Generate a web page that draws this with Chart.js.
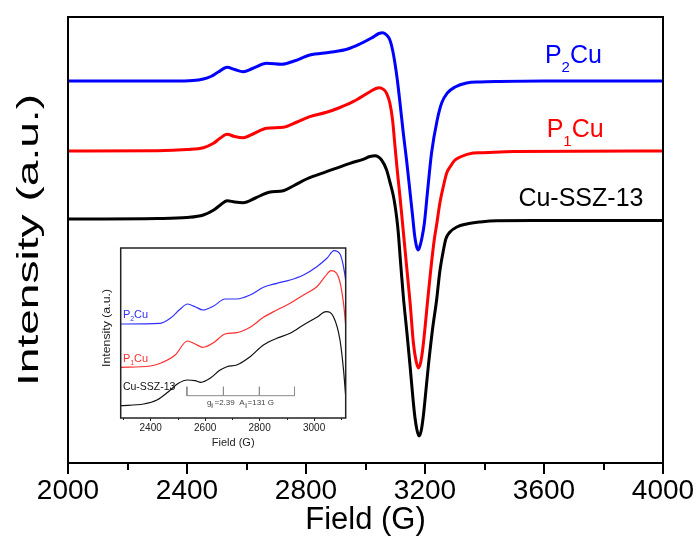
<!DOCTYPE html>
<html><head><meta charset="utf-8">
<script src="https://cdn.jsdelivr.net/npm/chart.js@4.4.0/dist/chart.umd.min.js"></script>
<style>
html,body{margin:0;padding:0;background:#fff;}
#wrap{position:relative;width:698px;height:537px;overflow:hidden;}
#main{position:absolute;left:0;top:0;width:698px;height:537px;}
#inset{position:absolute;left:95px;top:240px;width:260px;height:210px;}
</style></head><body>
<div id="wrap">
<canvas id="main" width="698" height="537"></canvas>
<canvas id="inset" width="260" height="210"></canvas>
</div>
<script>
// ---------- main chart data (field in G, intensity in arbitrary units incl. offset) ----------
const mainTickValues = [2000, 2400, 2800, 3200, 3600, 4000];
const mainMinorTickValues = [2200, 2600, 3000, 3400, 3800];

const p2Field = [2000,2200,2350,2420,2455,2480,2505,2535,2560,2589,2620,2668,2718,2760,2813,2881,2940,2981,3020,3045,3058,3071,3082,3091,3099,3107,3116,3127,3138,3150,3158,3165,3172,3177,3182,3189,3198,3208,3222,3241,3256,3275,3301,3340,3385,3450,3600,3800,4000];
const p2Val   = [382,382,382,382.5,384,386.5,391,395.7,393.5,391.3,394.5,399.7,398.7,402,408,410.7,414,419,425,429.5,430.3,428,423,413,399.7,383,360,330,303,270,248,228,216,213,216,224,240,270,310,343,360,370,376,380,381,381.5,382,382,382];

const p1Field = [2000,2300,2400,2455,2489,2510,2535,2560,2589,2625,2668,2724,2770,2813,2869,2910,2958,3015,3035,3046,3060,3071,3082,3091,3099,3107,3116,3125,3133,3141,3150,3161,3170,3178,3185,3192,3200,3209,3220,3231,3239,3250,3262,3273,3284,3301,3318,3362,3385,3500,4000];
const p1Val   = [312,312.3,313.5,315.3,319.7,324.5,328.7,326.5,325.3,329.5,334.7,335.7,341,346.3,350.7,355,361.3,371.3,374.5,375.3,373.7,369.7,359.7,343,317,292,266,238,213,188,160,120,102,95,100,113,135,163,195,223,238,260,277,290,296,303,306,310,310.3,311.5,312];

const cuField = [2000,2300,2400,2455,2490,2510,2535,2560,2589,2630,2676,2724,2760,2802,2869,2948,2992,3015,3032,3054,3071,3082,3093,3099,3105,3110,3118,3127,3140,3150,3160,3166,3173,3180,3187,3194,3200,3211,3225,3239,3250,3262,3270,3284,3307,3340,3385,3441,3600,4000];
const cuVal   = [244,244.5,245.5,248,253,257.5,262.3,261,260.3,265,270.7,272.3,277.5,284,291.3,299.7,303.7,306.5,307.3,303,293,281,268,258,245,231,200,167,128,96.3,63,46,33,27,32,46,63,96.3,133,163,192,213,224,231,236,239,241,242.3,242.5,242.5];

// ---------- inset data ----------
const insetTickValues = [2400, 2600, 2800, 3000];
const insetMinorTickValues = [2300, 2500, 2700, 2900, 3100];

const inP2Field = [2288,2435,2472,2508,2535,2563,2592,2631,2673,2716,2765,2814,2863,2912,2961,3010,3047,3073,3095,3108,3117,3125];
const inP2Val   = [94,94.7,99.7,108.7,114,111.3,108,112,119,119,123,130.7,134.7,138,143,151.3,159.7,167.3,164,151.3,134.7,105];

const inP1Field = [2288,2398,2435,2490,2535,2563,2592,2631,2673,2716,2765,2814,2863,2912,2961,3010,3040,3062,3089,3108,3117,3125];
const inP1Val   = [50.7,52,54.7,63,77,74,70.7,75.3,84,85.3,90.7,100.7,108,114.7,123,131.3,141.3,147.3,141.3,114.7,88,55];

const inCuField = [2288,2374,2423,2465,2502,2535,2563,2585,2618,2655,2680,2716,2765,2814,2863,2912,2961,3010,3044,3071,3095,3108,3117,3125];
const inCuVal   = [12.3,14,18,26.3,34.7,38,37.3,35.7,39.7,48,51.3,53,61.3,73,79.7,84.7,93,100.7,106.3,101.3,78,48,18,-10];

// hyperfine marker (g|| / A||) line positions
const hyperfineFields = [2533, 2667, 2799, 2928];

const seriesNames = ['P₂Cu', 'P₁Cu', 'Cu-SSZ-13'];

function pts(xs, ys){ return xs.map((x,i)=>({x:x, y:ys[i]})); }

const SANS = '"Liberation Sans", Arial, Helvetica, sans-serif';
Chart.defaults.font.family = SANS;
Chart.defaults.color = '#000';

function drawParts(ctx, parts, x, y, size, subSize, subOff, color){
  ctx.fillStyle = color;
  ctx.textBaseline = 'alphabetic';
  ctx.textAlign = 'left';
  let cx = x;
  for (const [t, sub] of parts){
    ctx.font = (sub ? subSize : size) + 'px ' + SANS;
    ctx.fillText(t, cx, sub ? y + subOff : y);
    cx += ctx.measureText(t).width;
  }
}
function drawStretchedVertical(ctx, text, font, color, baseX, centerY, length){
  ctx.save();
  ctx.font = font;
  ctx.fillStyle = color;
  const w = ctx.measureText(text).width;
  ctx.translate(baseX, centerY);
  ctx.rotate(-Math.PI/2);
  ctx.scale(length / w, 1);
  ctx.textAlign = 'center';
  ctx.textBaseline = 'alphabetic';
  ctx.fillText(text, 0, 0);
  ctx.restore();
}

const framePlugin = {
  id: 'frameDeco',
  afterDraw(chart, args, o){
    const {ctx, chartArea:a, scales:{x, y}} = chart;
    ctx.save();
    ctx.strokeStyle = o.frameColor;
    ctx.lineWidth = o.tickWidth;
    for (const v of o.minor){
      const px = Math.round(x.getPixelForValue(v));
      ctx.beginPath(); ctx.moveTo(px, a.bottom); ctx.lineTo(px, a.bottom + o.minorLen); ctx.stroke();
    }
    ctx.lineWidth = o.frameWidth;
    ctx.strokeRect(a.left, a.top, a.right - a.left, a.bottom - a.top);
    for (const L of o.labels){
      drawParts(ctx, L.parts, x.getPixelForValue(L.x), y.getPixelForValue(L.y), L.size, L.subSize, L.subOff, L.color);
    }
    if (o.yTitle){
      const t = o.yTitle;
      drawStretchedVertical(ctx, t.text, t.font, t.color, t.baseX, (a.top + a.bottom)/2 + t.dy, t.length);
    }
    ctx.restore();
  }
};

// ---------------- main chart ----------------
new Chart(document.getElementById('main'), {
  type: 'line',
  data: {
    datasets: [
      {label: seriesNames[0], data: pts(p2Field, p2Val), borderColor: '#0000ff'},
      {label: seriesNames[1], data: pts(p1Field, p1Val), borderColor: '#ff0000'},
      {label: seriesNames[2], data: pts(cuField, cuVal), borderColor: '#000000'}
    ]
  },
  options: {
    responsive: false,
    animation: false,
    devicePixelRatio: 1,
    layout: {padding: {left: 0, right: 35, top: 17, bottom: 0}},
    elements: {
      point: {radius: 0},
      line: {borderWidth: 3, cubicInterpolationMode: 'monotone', fill: false, borderJoinStyle: 'round', borderCapStyle: 'round'}
    },
    plugins: {
      legend: {display: false},
      tooltip: {enabled: false},
      frameDeco: {
        frameColor: '#000', frameWidth: 2, tickWidth: 2, minor: mainMinorTickValues, minorLen: 7,
        labels: [
          {parts: [['P',0],['2',1],['Cu',0]], x: 3603, y: 399.7, size: 25, subSize: 15, subOff: 9, color: '#0000ff'},
          {parts: [['P',0],['1',1],['Cu',0]], x: 3609, y: 326.3, size: 25, subSize: 15, subOff: 9, color: '#ff0000'},
          {parts: [['Cu-SSZ-13',0]], x: 3514, y: 257.5, size: 25, subSize: 15, subOff: 9, color: '#000000'}
        ],
        yTitle: {text: 'Intensity (a.u.)', font: '30px ' + SANS, color: '#000', baseX: 38, dy: 0, length: 292}
      }
    },
    scales: {
      x: {
        type: 'linear', min: 2000, max: 4000,
        afterBuildTicks: s => { s.ticks = mainTickValues.map(v => ({value: v})); },
        afterFit: s => { s.height = 74; },
        grid: {display: true, drawOnChartArea: false, drawTicks: true, tickLength: 11, tickWidth: 2, tickColor: '#000', lineWidth: 2, color: '#000'},
        border: {display: false},
        ticks: {font: {family: SANS, size: 28}, color: '#000', padding: 0, maxRotation: 0, autoSkip: false, callback: v => String(v)},
        title: {display: true, text: 'Field (G)', font: {family: SANS, size: 31}, color: '#000', padding: {top: 0, bottom: -2}}
      },
      y: {
        type: 'linear', min: 0, max: 446,
        afterFit: s => { s.width = 68; },
        grid: {display: false},
        border: {display: false},
        ticks: {display: false},
        title: {display: false}
      }
    }
  },
  plugins: [framePlugin]
});

// ---------------- inset chart ----------------
const annotPts = [];
const annotBase = 22.3, annotTop = 31.3;
hyperfineFields.forEach((f, i) => {
  if (i > 0) annotPts.push({x: f, y: annotBase});
  annotPts.push({x: f, y: annotTop});
  annotPts.push({x: f, y: annotBase});
});

const insetPlugin = {
  id: 'insetDeco',
  afterDraw(chart, args, o){
    const {ctx, chartArea:a, scales:{x, y}} = chart;
    ctx.save();
    ctx.strokeStyle = '#222';
    ctx.lineWidth = 1;
    for (const v of o.minor){
      const px = Math.round(x.getPixelForValue(v)) + 0.5;
      ctx.beginPath(); ctx.moveTo(px, a.bottom); ctx.lineTo(px, a.bottom + 2); ctx.stroke();
    }
    ctx.lineWidth = 1.5;
    ctx.strokeRect(a.left, a.top, a.right - a.left, a.bottom - a.top);
    for (const L of o.labels){
      drawParts(ctx, L.parts, x.getPixelForValue(L.x), y.getPixelForValue(L.y), L.size, L.subSize, L.subOff, L.color);
    }
    const tx = x.getPixelForValue(o.annot.x), ty = y.getPixelForValue(o.annot.y);
    drawParts(ctx, [['g',0],['∥',1],['=2.39  A',0],['∥',1],['=131 G',0]], tx, ty, 8, 5, 2, '#444');
    drawStretchedVertical(ctx, 'Intensity (a.u.)', '10px ' + SANS, '#222', 15, 88, 78);
    ctx.restore();
  }
};

new Chart(document.getElementById('inset'), {
  type: 'line',
  data: {
    datasets: [
      {label: seriesNames[0], data: pts(inP2Field, inP2Val), borderColor: '#2f2fff', borderWidth: 1.2},
      {label: seriesNames[1], data: pts(inP1Field, inP1Val), borderColor: '#ff2f2f', borderWidth: 1.2},
      {label: seriesNames[2], data: pts(inCuField, inCuVal), borderColor: '#111111', borderWidth: 1.2},
      {label: 'hyperfine', data: annotPts, borderColor: '#8a8a8a', borderWidth: 1, cubicInterpolationMode: 'default', tension: 0}
    ]
  },
  options: {
    responsive: false,
    animation: false,
    devicePixelRatio: 1,
    layout: {padding: {left: 0, right: 9.3, top: 8, bottom: 0}},
    elements: {
      point: {radius: 0},
      line: {cubicInterpolationMode: 'monotone', fill: false}
    },
    plugins: {
      legend: {display: false},
      tooltip: {enabled: false},
      insetDeco: {
        minor: insetMinorTickValues,
        annot: {x: 2607, y: 13},
        labels: [
          {parts: [['P',0],['2',1],['Cu',0]], x: 2298, y: 100, size: 11, subSize: 7, subOff: 3, color: '#2f2fff'},
          {parts: [['P',0],['1',1],['Cu',0]], x: 2298, y: 56.5, size: 11, subSize: 7, subOff: 3, color: '#ff2f2f'},
          {parts: [['Cu-SSZ-13',0]], x: 2298, y: 28, size: 10.5, subSize: 7, subOff: 3, color: '#111111'}
        ]
      }
    },
    scales: {
      x: {
        type: 'linear', min: 2290, max: 3116,
        afterBuildTicks: s => { s.ticks = insetTickValues.map(v => ({value: v})); },
        afterFit: s => { s.height = 32; },
        grid: {display: true, drawOnChartArea: false, drawTicks: true, tickLength: 3, tickWidth: 1, tickColor: '#222', color: '#222'},
        border: {display: false},
        ticks: {font: {size: 10, family: SANS}, color: '#222', padding: 1, maxRotation: 0, autoSkip: false, callback: v => String(v)},
        title: {display: true, text: 'Field (G)', font: {size: 11, family: SANS}, color: '#222', padding: {top: 0, bottom: 0}}
      },
      y: {
        type: 'linear', min: 0, max: 170,
        afterFit: s => { s.width = 25.7; },
        grid: {display: false},
        border: {display: false},
        ticks: {display: false},
        title: {display: false}
      }
    }
  },
  plugins: [insetPlugin]
});
</script>
</body></html>
